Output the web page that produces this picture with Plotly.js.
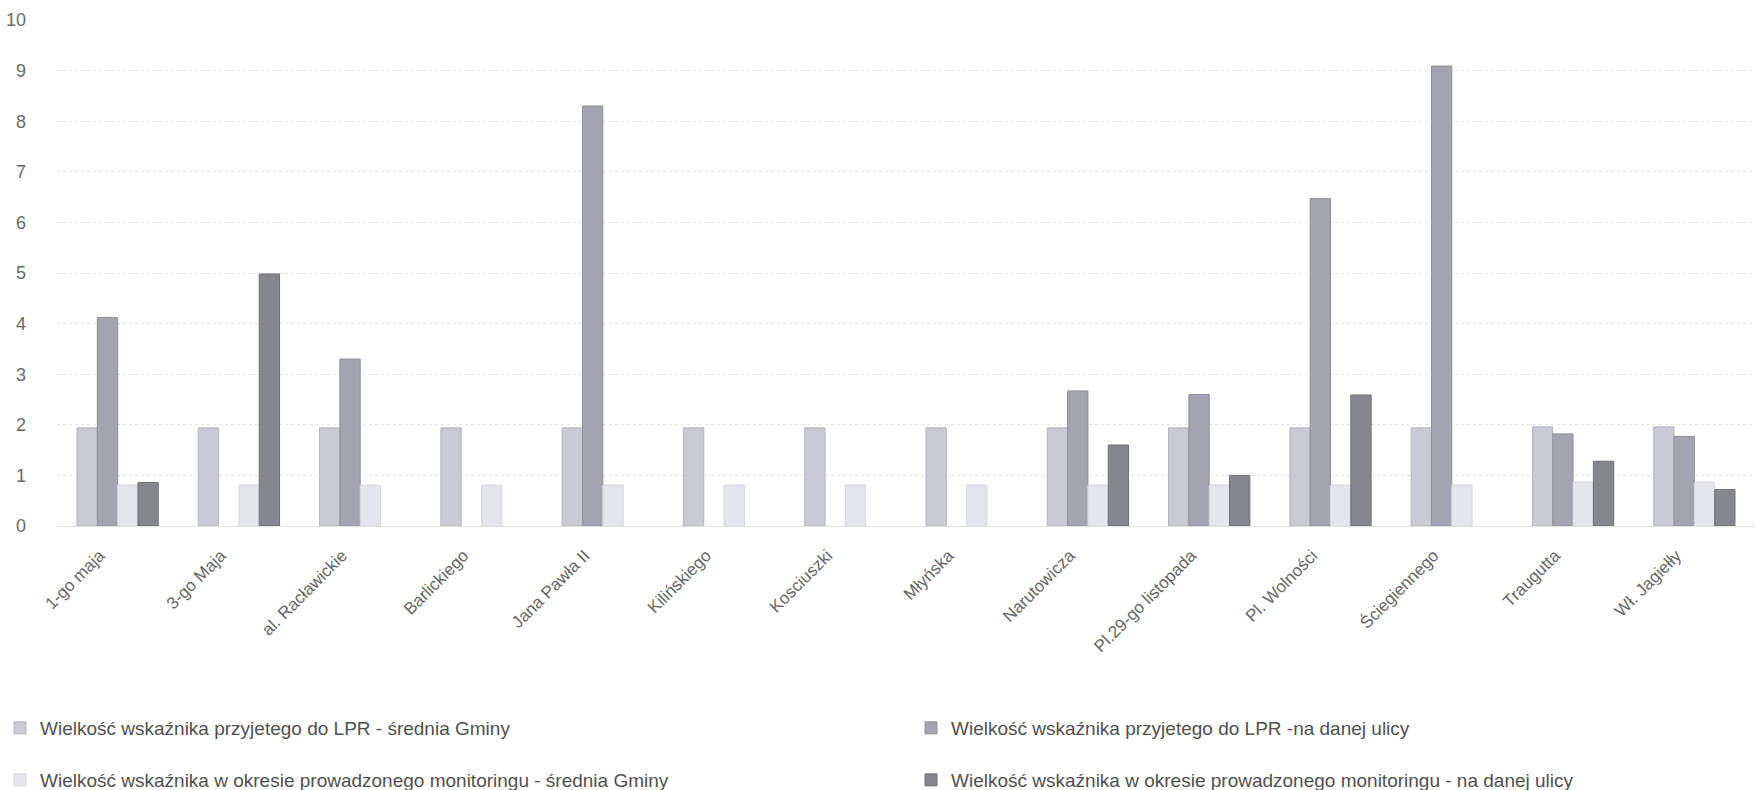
<!DOCTYPE html>
<html>
<head>
<meta charset="utf-8">
<script src="https://cdn.plot.ly/plotly-3.0.1.min.js"></script>
<style>html,body{margin:0;padding:0;background:#fff;}#chart{width:1763px;height:790px;}</style>
</head>
<body>
<div id="chart"></div>
<script>
const categories = ["1-go maja","3-go Maja","al. Racławickie","Barlickiego","Jana Pawła II","Kilińskiego","Kosciuszki","Młyńska","Narutowicza","Pl.29-go listopada","Pl. Wolności","Ściegiennego","Traugutta","Wł. Jagiełły"];
const seriesNames = [
  "Wielkość wskaźnika przyjetego do LPR - średnia Gminy",
  "Wielkość wskaźnika przyjetego do LPR -na danej ulicy",
  "Wielkość wskaźnika w okresie prowadzonego monitoringu - średnia Gminy",
  "Wielkość wskaźnika w okresie prowadzonego monitoringu - na danej ulicy"
];
const lprGmina = [1.94,1.94,1.94,1.94,1.94,1.94,1.94,1.94,1.94,1.94,1.94,1.94,1.96,1.96];
const lprUlica = [4.12,null,3.3,null,8.3,null,null,null,2.67,2.6,6.47,9.09,1.82,1.77];
const monGmina = [0.81,0.81,0.81,0.81,0.81,0.81,0.81,0.81,0.81,0.81,0.81,0.81,0.87,0.87];
const monUlica = [0.86,4.98,null,null,null,null,null,null,1.6,1.0,2.59,null,1.28,0.72];

const colors = ["#cacad3","#a4a4ae","#e5e5ec","#86868d"];
const lines = ["#b4b4be","#8e8e98","#d6d6de","#707078"];
const vals = [lprGmina, lprUlica, monGmina, monUlica];
const legendIds = ["legend","legend2","legend3","legend4"];

const traces = vals.map((v,i)=>({
  type:"bar",
  name: seriesNames[i],
  x: categories,
  y: v,
  legend: legendIds[i],
  marker:{color:colors[i], line:{color:lines[i], width:1}},
  hoverinfo:"y"
}));

const legendCommon = {
  orientation:"h", xref:"container", yref:"container", xanchor:"left", yanchor:"middle",
  font:{family:"Liberation Sans, Arial, sans-serif", size:19, color:"#505050"},
  itemwidth:30, bgcolor:"rgba(0,0,0,0)"
};
function lg(xpx, ypx){ return Object.assign({}, legendCommon, {x:xpx/1763, y:1 - ypx/790}); }

const layout = {
  width:1763, height:790,
  paper_bgcolor:"#ffffff", plot_bgcolor:"#ffffff",
  margin:{l:57, r:8, t:20, b:264},
  barmode:"group", bargap:0.33, bargroupgap:0,
  font:{family:"Liberation Sans, Arial, sans-serif", color:"#707070"},
  xaxis:{
    type:"category", tickangle:-45, showgrid:false, zeroline:false,
    showline:true, linecolor:"#e2e2e2", linewidth:1, ticks:"",
    ticklabelstandoff:12, ticklabelshift:-18,
    tickfont:{size:17, color:"#666666"}, automargin:false
  },
  yaxis:{
    range:[0,10], dtick:1, showgrid:true, gridcolor:"#e4e4e4", griddash:"dot", gridwidth:1,
    zeroline:false, showline:false, ticks:"", ticklabelstandoff:30,
    tickfont:{size:18, color:"#6a6a6a"}, automargin:false
  },
  showlegend:true,
  legend: lg(-8, 728),
  legend2: lg(911, 728),
  legend3: lg(-8, 780),
  legend4: lg(911, 780)
};

Plotly.newPlot("chart", traces, layout, {displayModeBar:false, staticPlot:true});
</script>
</body>
</html>
